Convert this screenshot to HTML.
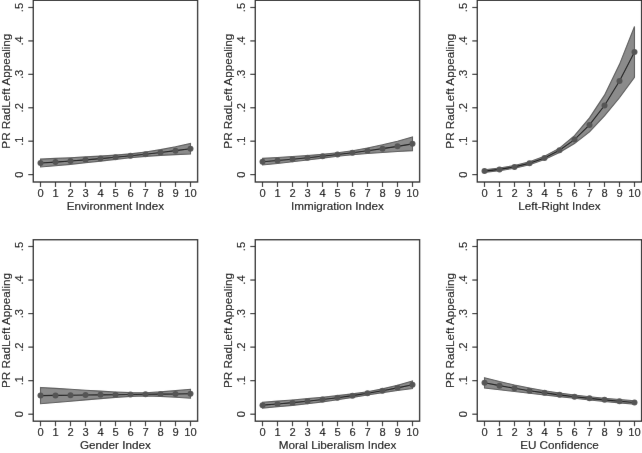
<!DOCTYPE html>
<html><head><meta charset="utf-8"><style>
html,body{margin:0;padding:0;background:#fff;}
body{width:642px;height:453px;overflow:hidden;}
svg{display:block;}
text{font-family:"Liberation Sans",sans-serif;}
</style></head><body>
<svg width="642" height="453" viewBox="0 0 642 453">
<defs><filter id="bl" x="0" y="0" width="642" height="453" filterUnits="userSpaceOnUse"><feConvolveMatrix order="3" kernelMatrix="0.00163 0.03713 0.00163 0.03713 0.84497 0.03713 0.00163 0.03713 0.00163" edgeMode="duplicate" preserveAlpha="true"/></filter></defs>
<rect width="642" height="453" fill="#fff"/>
<g filter="url(#bl)">
<rect width="642" height="453" fill="#fff"/>
<polygon points="40.50,159.13 55.50,158.41 70.50,157.68 85.50,156.91 100.50,156.08 115.50,155.11 130.50,153.84 145.50,152.04 160.50,149.65 175.50,146.75 190.50,143.42 190.50,153.98 175.50,154.59 160.50,155.36 145.50,156.36 130.50,157.72 115.50,159.37 100.50,161.11 85.50,162.79 70.50,164.34 55.50,165.74 40.50,167.01" fill="#8b8b8b" stroke="#595959" stroke-width="1.1" stroke-linejoin="miter"/>
<polyline points="40.50,163.07 55.50,162.08 70.50,161.01 85.50,159.85 100.50,158.59 115.50,157.24 130.50,155.78 145.50,154.20 160.50,152.50 175.50,150.67 190.50,148.70" fill="none" stroke="#1a1a1a" stroke-width="1.1"/>
<circle cx="40.50" cy="163.07" r="3.0" fill="#555555"/>
<circle cx="55.50" cy="162.08" r="3.0" fill="#555555"/>
<circle cx="70.50" cy="161.01" r="3.0" fill="#555555"/>
<circle cx="85.50" cy="159.85" r="3.0" fill="#555555"/>
<circle cx="100.50" cy="158.59" r="3.0" fill="#555555"/>
<circle cx="115.50" cy="157.24" r="3.0" fill="#555555"/>
<circle cx="130.50" cy="155.78" r="3.0" fill="#555555"/>
<circle cx="145.50" cy="154.20" r="3.0" fill="#555555"/>
<circle cx="160.50" cy="152.50" r="3.0" fill="#555555"/>
<circle cx="175.50" cy="150.67" r="3.0" fill="#555555"/>
<circle cx="190.50" cy="148.70" r="3.0" fill="#555555"/>
<rect x="33.30" y="0.30" width="164.30" height="181.70" fill="none" stroke="#2e2e2e" stroke-width="1.4"/>
<line x1="28.30" y1="174.60" x2="33.30" y2="174.60" stroke="#2e2e2e" stroke-width="1.2"/>
<text x="22.80" y="174.60" transform="rotate(-90 22.80 174.60)" text-anchor="middle" font-size="11.2" font-family="Liberation Sans, sans-serif" fill="#000" stroke="#000" stroke-width="0.12">0</text>
<line x1="28.30" y1="141.18" x2="33.30" y2="141.18" stroke="#2e2e2e" stroke-width="1.2"/>
<text x="22.80" y="141.18" transform="rotate(-90 22.80 141.18)" text-anchor="middle" font-size="11.2" font-family="Liberation Sans, sans-serif" fill="#000" stroke="#000" stroke-width="0.12">.1</text>
<line x1="28.30" y1="107.76" x2="33.30" y2="107.76" stroke="#2e2e2e" stroke-width="1.2"/>
<text x="22.80" y="107.76" transform="rotate(-90 22.80 107.76)" text-anchor="middle" font-size="11.2" font-family="Liberation Sans, sans-serif" fill="#000" stroke="#000" stroke-width="0.12">.2</text>
<line x1="28.30" y1="74.34" x2="33.30" y2="74.34" stroke="#2e2e2e" stroke-width="1.2"/>
<text x="22.80" y="74.34" transform="rotate(-90 22.80 74.34)" text-anchor="middle" font-size="11.2" font-family="Liberation Sans, sans-serif" fill="#000" stroke="#000" stroke-width="0.12">.3</text>
<line x1="28.30" y1="40.92" x2="33.30" y2="40.92" stroke="#2e2e2e" stroke-width="1.2"/>
<text x="22.80" y="40.92" transform="rotate(-90 22.80 40.92)" text-anchor="middle" font-size="11.2" font-family="Liberation Sans, sans-serif" fill="#000" stroke="#000" stroke-width="0.12">.4</text>
<line x1="28.30" y1="7.50" x2="33.30" y2="7.50" stroke="#2e2e2e" stroke-width="1.2"/>
<text x="22.80" y="7.50" transform="rotate(-90 22.80 7.50)" text-anchor="middle" font-size="11.2" font-family="Liberation Sans, sans-serif" fill="#000" stroke="#000" stroke-width="0.12">.5</text>
<line x1="40.50" y1="182.00" x2="40.50" y2="187.00" stroke="#2e2e2e" stroke-width="1.2"/>
<text x="40.50" y="197.10" text-anchor="middle" font-size="11.2" font-family="Liberation Sans, sans-serif" fill="#000" stroke="#000" stroke-width="0.12">0</text>
<line x1="55.50" y1="182.00" x2="55.50" y2="187.00" stroke="#2e2e2e" stroke-width="1.2"/>
<text x="55.50" y="197.10" text-anchor="middle" font-size="11.2" font-family="Liberation Sans, sans-serif" fill="#000" stroke="#000" stroke-width="0.12">1</text>
<line x1="70.50" y1="182.00" x2="70.50" y2="187.00" stroke="#2e2e2e" stroke-width="1.2"/>
<text x="70.50" y="197.10" text-anchor="middle" font-size="11.2" font-family="Liberation Sans, sans-serif" fill="#000" stroke="#000" stroke-width="0.12">2</text>
<line x1="85.50" y1="182.00" x2="85.50" y2="187.00" stroke="#2e2e2e" stroke-width="1.2"/>
<text x="85.50" y="197.10" text-anchor="middle" font-size="11.2" font-family="Liberation Sans, sans-serif" fill="#000" stroke="#000" stroke-width="0.12">3</text>
<line x1="100.50" y1="182.00" x2="100.50" y2="187.00" stroke="#2e2e2e" stroke-width="1.2"/>
<text x="100.50" y="197.10" text-anchor="middle" font-size="11.2" font-family="Liberation Sans, sans-serif" fill="#000" stroke="#000" stroke-width="0.12">4</text>
<line x1="115.50" y1="182.00" x2="115.50" y2="187.00" stroke="#2e2e2e" stroke-width="1.2"/>
<text x="115.50" y="197.10" text-anchor="middle" font-size="11.2" font-family="Liberation Sans, sans-serif" fill="#000" stroke="#000" stroke-width="0.12">5</text>
<line x1="130.50" y1="182.00" x2="130.50" y2="187.00" stroke="#2e2e2e" stroke-width="1.2"/>
<text x="130.50" y="197.10" text-anchor="middle" font-size="11.2" font-family="Liberation Sans, sans-serif" fill="#000" stroke="#000" stroke-width="0.12">6</text>
<line x1="145.50" y1="182.00" x2="145.50" y2="187.00" stroke="#2e2e2e" stroke-width="1.2"/>
<text x="145.50" y="197.10" text-anchor="middle" font-size="11.2" font-family="Liberation Sans, sans-serif" fill="#000" stroke="#000" stroke-width="0.12">7</text>
<line x1="160.50" y1="182.00" x2="160.50" y2="187.00" stroke="#2e2e2e" stroke-width="1.2"/>
<text x="160.50" y="197.10" text-anchor="middle" font-size="11.2" font-family="Liberation Sans, sans-serif" fill="#000" stroke="#000" stroke-width="0.12">8</text>
<line x1="175.50" y1="182.00" x2="175.50" y2="187.00" stroke="#2e2e2e" stroke-width="1.2"/>
<text x="175.50" y="197.10" text-anchor="middle" font-size="11.2" font-family="Liberation Sans, sans-serif" fill="#000" stroke="#000" stroke-width="0.12">9</text>
<line x1="190.50" y1="182.00" x2="190.50" y2="187.00" stroke="#2e2e2e" stroke-width="1.2"/>
<text x="190.50" y="197.10" text-anchor="middle" font-size="11.2" font-family="Liberation Sans, sans-serif" fill="#000" stroke="#000" stroke-width="0.12">10</text>
<text x="115.45" y="209.80" text-anchor="middle" font-size="11.7" font-family="Liberation Sans, sans-serif" fill="#000" stroke="#000" stroke-width="0.12">Environment Index</text>
<text x="9.90" y="91.15" transform="rotate(-90 9.90 91.15)" text-anchor="middle" font-size="11.7" font-family="Liberation Sans, sans-serif" fill="#000" stroke="#000" stroke-width="0.12">PR RadLeft Appealing</text>
<polygon points="262.50,158.42 277.50,157.52 292.50,156.57 307.50,155.53 322.50,154.34 337.50,152.81 352.50,150.72 367.50,148.03 382.50,144.82 397.50,141.16 412.50,137.07 412.50,150.64 397.50,151.52 382.50,152.47 367.50,153.53 352.50,154.77 337.50,156.32 322.50,158.14 307.50,160.02 292.50,161.82 277.50,163.48 262.50,164.98" fill="#8b8b8b" stroke="#595959" stroke-width="1.1" stroke-linejoin="miter"/>
<polyline points="262.50,161.70 277.50,160.50 292.50,159.20 307.50,157.78 322.50,156.24 337.50,154.56 352.50,152.75 367.50,150.78 382.50,148.65 397.50,146.34 412.50,143.85" fill="none" stroke="#1a1a1a" stroke-width="1.1"/>
<circle cx="262.50" cy="161.70" r="3.0" fill="#555555"/>
<circle cx="277.50" cy="160.50" r="3.0" fill="#555555"/>
<circle cx="292.50" cy="159.20" r="3.0" fill="#555555"/>
<circle cx="307.50" cy="157.78" r="3.0" fill="#555555"/>
<circle cx="322.50" cy="156.24" r="3.0" fill="#555555"/>
<circle cx="337.50" cy="154.56" r="3.0" fill="#555555"/>
<circle cx="352.50" cy="152.75" r="3.0" fill="#555555"/>
<circle cx="367.50" cy="150.78" r="3.0" fill="#555555"/>
<circle cx="382.50" cy="148.65" r="3.0" fill="#555555"/>
<circle cx="397.50" cy="146.34" r="3.0" fill="#555555"/>
<circle cx="412.50" cy="143.85" r="3.0" fill="#555555"/>
<rect x="255.30" y="0.30" width="164.30" height="181.70" fill="none" stroke="#2e2e2e" stroke-width="1.4"/>
<line x1="250.30" y1="174.60" x2="255.30" y2="174.60" stroke="#2e2e2e" stroke-width="1.2"/>
<text x="244.80" y="174.60" transform="rotate(-90 244.80 174.60)" text-anchor="middle" font-size="11.2" font-family="Liberation Sans, sans-serif" fill="#000" stroke="#000" stroke-width="0.12">0</text>
<line x1="250.30" y1="141.18" x2="255.30" y2="141.18" stroke="#2e2e2e" stroke-width="1.2"/>
<text x="244.80" y="141.18" transform="rotate(-90 244.80 141.18)" text-anchor="middle" font-size="11.2" font-family="Liberation Sans, sans-serif" fill="#000" stroke="#000" stroke-width="0.12">.1</text>
<line x1="250.30" y1="107.76" x2="255.30" y2="107.76" stroke="#2e2e2e" stroke-width="1.2"/>
<text x="244.80" y="107.76" transform="rotate(-90 244.80 107.76)" text-anchor="middle" font-size="11.2" font-family="Liberation Sans, sans-serif" fill="#000" stroke="#000" stroke-width="0.12">.2</text>
<line x1="250.30" y1="74.34" x2="255.30" y2="74.34" stroke="#2e2e2e" stroke-width="1.2"/>
<text x="244.80" y="74.34" transform="rotate(-90 244.80 74.34)" text-anchor="middle" font-size="11.2" font-family="Liberation Sans, sans-serif" fill="#000" stroke="#000" stroke-width="0.12">.3</text>
<line x1="250.30" y1="40.92" x2="255.30" y2="40.92" stroke="#2e2e2e" stroke-width="1.2"/>
<text x="244.80" y="40.92" transform="rotate(-90 244.80 40.92)" text-anchor="middle" font-size="11.2" font-family="Liberation Sans, sans-serif" fill="#000" stroke="#000" stroke-width="0.12">.4</text>
<line x1="250.30" y1="7.50" x2="255.30" y2="7.50" stroke="#2e2e2e" stroke-width="1.2"/>
<text x="244.80" y="7.50" transform="rotate(-90 244.80 7.50)" text-anchor="middle" font-size="11.2" font-family="Liberation Sans, sans-serif" fill="#000" stroke="#000" stroke-width="0.12">.5</text>
<line x1="262.50" y1="182.00" x2="262.50" y2="187.00" stroke="#2e2e2e" stroke-width="1.2"/>
<text x="262.50" y="197.10" text-anchor="middle" font-size="11.2" font-family="Liberation Sans, sans-serif" fill="#000" stroke="#000" stroke-width="0.12">0</text>
<line x1="277.50" y1="182.00" x2="277.50" y2="187.00" stroke="#2e2e2e" stroke-width="1.2"/>
<text x="277.50" y="197.10" text-anchor="middle" font-size="11.2" font-family="Liberation Sans, sans-serif" fill="#000" stroke="#000" stroke-width="0.12">1</text>
<line x1="292.50" y1="182.00" x2="292.50" y2="187.00" stroke="#2e2e2e" stroke-width="1.2"/>
<text x="292.50" y="197.10" text-anchor="middle" font-size="11.2" font-family="Liberation Sans, sans-serif" fill="#000" stroke="#000" stroke-width="0.12">2</text>
<line x1="307.50" y1="182.00" x2="307.50" y2="187.00" stroke="#2e2e2e" stroke-width="1.2"/>
<text x="307.50" y="197.10" text-anchor="middle" font-size="11.2" font-family="Liberation Sans, sans-serif" fill="#000" stroke="#000" stroke-width="0.12">3</text>
<line x1="322.50" y1="182.00" x2="322.50" y2="187.00" stroke="#2e2e2e" stroke-width="1.2"/>
<text x="322.50" y="197.10" text-anchor="middle" font-size="11.2" font-family="Liberation Sans, sans-serif" fill="#000" stroke="#000" stroke-width="0.12">4</text>
<line x1="337.50" y1="182.00" x2="337.50" y2="187.00" stroke="#2e2e2e" stroke-width="1.2"/>
<text x="337.50" y="197.10" text-anchor="middle" font-size="11.2" font-family="Liberation Sans, sans-serif" fill="#000" stroke="#000" stroke-width="0.12">5</text>
<line x1="352.50" y1="182.00" x2="352.50" y2="187.00" stroke="#2e2e2e" stroke-width="1.2"/>
<text x="352.50" y="197.10" text-anchor="middle" font-size="11.2" font-family="Liberation Sans, sans-serif" fill="#000" stroke="#000" stroke-width="0.12">6</text>
<line x1="367.50" y1="182.00" x2="367.50" y2="187.00" stroke="#2e2e2e" stroke-width="1.2"/>
<text x="367.50" y="197.10" text-anchor="middle" font-size="11.2" font-family="Liberation Sans, sans-serif" fill="#000" stroke="#000" stroke-width="0.12">7</text>
<line x1="382.50" y1="182.00" x2="382.50" y2="187.00" stroke="#2e2e2e" stroke-width="1.2"/>
<text x="382.50" y="197.10" text-anchor="middle" font-size="11.2" font-family="Liberation Sans, sans-serif" fill="#000" stroke="#000" stroke-width="0.12">8</text>
<line x1="397.50" y1="182.00" x2="397.50" y2="187.00" stroke="#2e2e2e" stroke-width="1.2"/>
<text x="397.50" y="197.10" text-anchor="middle" font-size="11.2" font-family="Liberation Sans, sans-serif" fill="#000" stroke="#000" stroke-width="0.12">9</text>
<line x1="412.50" y1="182.00" x2="412.50" y2="187.00" stroke="#2e2e2e" stroke-width="1.2"/>
<text x="412.50" y="197.10" text-anchor="middle" font-size="11.2" font-family="Liberation Sans, sans-serif" fill="#000" stroke="#000" stroke-width="0.12">10</text>
<text x="337.45" y="209.80" text-anchor="middle" font-size="11.7" font-family="Liberation Sans, sans-serif" fill="#000" stroke="#000" stroke-width="0.12">Immigration Index</text>
<text x="231.90" y="91.15" transform="rotate(-90 231.90 91.15)" text-anchor="middle" font-size="11.7" font-family="Liberation Sans, sans-serif" fill="#000" stroke="#000" stroke-width="0.12">PR RadLeft Appealing</text>
<polygon points="484.50,169.75 499.50,168.05 514.50,165.55 529.50,161.71 544.50,156.23 559.50,148.11 574.50,135.57 589.50,117.89 604.50,95.16 619.50,64.35 634.50,26.54 634.50,77.34 619.50,97.77 604.50,115.88 589.50,131.93 574.50,143.59 559.50,152.45 544.50,159.57 529.50,164.72 514.50,168.22 499.50,170.72 484.50,172.42" fill="#8b8b8b" stroke="#595959" stroke-width="1.1" stroke-linejoin="miter"/>
<polyline points="484.50,171.09 499.50,169.39 514.50,166.88 529.50,163.22 544.50,157.90 559.50,150.28 574.50,139.58 589.50,124.91 604.50,105.52 619.50,81.06 634.50,51.94" fill="none" stroke="#1a1a1a" stroke-width="1.1"/>
<circle cx="484.50" cy="171.09" r="3.0" fill="#555555"/>
<circle cx="499.50" cy="169.39" r="3.0" fill="#555555"/>
<circle cx="514.50" cy="166.88" r="3.0" fill="#555555"/>
<circle cx="529.50" cy="163.22" r="3.0" fill="#555555"/>
<circle cx="544.50" cy="157.90" r="3.0" fill="#555555"/>
<circle cx="559.50" cy="150.28" r="3.0" fill="#555555"/>
<circle cx="574.50" cy="139.58" r="3.0" fill="#555555"/>
<circle cx="589.50" cy="124.91" r="3.0" fill="#555555"/>
<circle cx="604.50" cy="105.52" r="3.0" fill="#555555"/>
<circle cx="619.50" cy="81.06" r="3.0" fill="#555555"/>
<circle cx="634.50" cy="51.94" r="3.0" fill="#555555"/>
<rect x="477.30" y="0.30" width="164.30" height="181.70" fill="none" stroke="#2e2e2e" stroke-width="1.4"/>
<line x1="472.30" y1="174.60" x2="477.30" y2="174.60" stroke="#2e2e2e" stroke-width="1.2"/>
<text x="466.80" y="174.60" transform="rotate(-90 466.80 174.60)" text-anchor="middle" font-size="11.2" font-family="Liberation Sans, sans-serif" fill="#000" stroke="#000" stroke-width="0.12">0</text>
<line x1="472.30" y1="141.18" x2="477.30" y2="141.18" stroke="#2e2e2e" stroke-width="1.2"/>
<text x="466.80" y="141.18" transform="rotate(-90 466.80 141.18)" text-anchor="middle" font-size="11.2" font-family="Liberation Sans, sans-serif" fill="#000" stroke="#000" stroke-width="0.12">.1</text>
<line x1="472.30" y1="107.76" x2="477.30" y2="107.76" stroke="#2e2e2e" stroke-width="1.2"/>
<text x="466.80" y="107.76" transform="rotate(-90 466.80 107.76)" text-anchor="middle" font-size="11.2" font-family="Liberation Sans, sans-serif" fill="#000" stroke="#000" stroke-width="0.12">.2</text>
<line x1="472.30" y1="74.34" x2="477.30" y2="74.34" stroke="#2e2e2e" stroke-width="1.2"/>
<text x="466.80" y="74.34" transform="rotate(-90 466.80 74.34)" text-anchor="middle" font-size="11.2" font-family="Liberation Sans, sans-serif" fill="#000" stroke="#000" stroke-width="0.12">.3</text>
<line x1="472.30" y1="40.92" x2="477.30" y2="40.92" stroke="#2e2e2e" stroke-width="1.2"/>
<text x="466.80" y="40.92" transform="rotate(-90 466.80 40.92)" text-anchor="middle" font-size="11.2" font-family="Liberation Sans, sans-serif" fill="#000" stroke="#000" stroke-width="0.12">.4</text>
<line x1="472.30" y1="7.50" x2="477.30" y2="7.50" stroke="#2e2e2e" stroke-width="1.2"/>
<text x="466.80" y="7.50" transform="rotate(-90 466.80 7.50)" text-anchor="middle" font-size="11.2" font-family="Liberation Sans, sans-serif" fill="#000" stroke="#000" stroke-width="0.12">.5</text>
<line x1="484.50" y1="182.00" x2="484.50" y2="187.00" stroke="#2e2e2e" stroke-width="1.2"/>
<text x="484.50" y="197.10" text-anchor="middle" font-size="11.2" font-family="Liberation Sans, sans-serif" fill="#000" stroke="#000" stroke-width="0.12">0</text>
<line x1="499.50" y1="182.00" x2="499.50" y2="187.00" stroke="#2e2e2e" stroke-width="1.2"/>
<text x="499.50" y="197.10" text-anchor="middle" font-size="11.2" font-family="Liberation Sans, sans-serif" fill="#000" stroke="#000" stroke-width="0.12">1</text>
<line x1="514.50" y1="182.00" x2="514.50" y2="187.00" stroke="#2e2e2e" stroke-width="1.2"/>
<text x="514.50" y="197.10" text-anchor="middle" font-size="11.2" font-family="Liberation Sans, sans-serif" fill="#000" stroke="#000" stroke-width="0.12">2</text>
<line x1="529.50" y1="182.00" x2="529.50" y2="187.00" stroke="#2e2e2e" stroke-width="1.2"/>
<text x="529.50" y="197.10" text-anchor="middle" font-size="11.2" font-family="Liberation Sans, sans-serif" fill="#000" stroke="#000" stroke-width="0.12">3</text>
<line x1="544.50" y1="182.00" x2="544.50" y2="187.00" stroke="#2e2e2e" stroke-width="1.2"/>
<text x="544.50" y="197.10" text-anchor="middle" font-size="11.2" font-family="Liberation Sans, sans-serif" fill="#000" stroke="#000" stroke-width="0.12">4</text>
<line x1="559.50" y1="182.00" x2="559.50" y2="187.00" stroke="#2e2e2e" stroke-width="1.2"/>
<text x="559.50" y="197.10" text-anchor="middle" font-size="11.2" font-family="Liberation Sans, sans-serif" fill="#000" stroke="#000" stroke-width="0.12">5</text>
<line x1="574.50" y1="182.00" x2="574.50" y2="187.00" stroke="#2e2e2e" stroke-width="1.2"/>
<text x="574.50" y="197.10" text-anchor="middle" font-size="11.2" font-family="Liberation Sans, sans-serif" fill="#000" stroke="#000" stroke-width="0.12">6</text>
<line x1="589.50" y1="182.00" x2="589.50" y2="187.00" stroke="#2e2e2e" stroke-width="1.2"/>
<text x="589.50" y="197.10" text-anchor="middle" font-size="11.2" font-family="Liberation Sans, sans-serif" fill="#000" stroke="#000" stroke-width="0.12">7</text>
<line x1="604.50" y1="182.00" x2="604.50" y2="187.00" stroke="#2e2e2e" stroke-width="1.2"/>
<text x="604.50" y="197.10" text-anchor="middle" font-size="11.2" font-family="Liberation Sans, sans-serif" fill="#000" stroke="#000" stroke-width="0.12">8</text>
<line x1="619.50" y1="182.00" x2="619.50" y2="187.00" stroke="#2e2e2e" stroke-width="1.2"/>
<text x="619.50" y="197.10" text-anchor="middle" font-size="11.2" font-family="Liberation Sans, sans-serif" fill="#000" stroke="#000" stroke-width="0.12">9</text>
<line x1="634.50" y1="182.00" x2="634.50" y2="187.00" stroke="#2e2e2e" stroke-width="1.2"/>
<text x="634.50" y="197.10" text-anchor="middle" font-size="11.2" font-family="Liberation Sans, sans-serif" fill="#000" stroke="#000" stroke-width="0.12">10</text>
<text x="559.45" y="209.80" text-anchor="middle" font-size="11.7" font-family="Liberation Sans, sans-serif" fill="#000" stroke="#000" stroke-width="0.12">Left-Right Index</text>
<text x="453.90" y="91.15" transform="rotate(-90 453.90 91.15)" text-anchor="middle" font-size="11.7" font-family="Liberation Sans, sans-serif" fill="#000" stroke="#000" stroke-width="0.12">PR RadLeft Appealing</text>
<polygon points="40.50,387.44 55.50,388.35 70.50,389.28 85.50,390.20 100.50,391.11 115.50,391.97 130.50,392.62 145.50,392.68 160.50,391.89 175.50,390.66 190.50,389.28 190.50,398.20 175.50,397.20 160.50,396.36 145.50,395.95 130.50,396.37 115.50,397.40 100.50,398.62 85.50,399.90 70.50,401.18 55.50,402.47 40.50,403.74" fill="#8b8b8b" stroke="#595959" stroke-width="1.1" stroke-linejoin="miter"/>
<polyline points="40.50,395.59 55.50,395.41 70.50,395.23 85.50,395.05 100.50,394.87 115.50,394.68 130.50,394.50 145.50,394.31 160.50,394.12 175.50,393.93 190.50,393.74" fill="none" stroke="#1a1a1a" stroke-width="1.1"/>
<circle cx="40.50" cy="395.59" r="3.0" fill="#555555"/>
<circle cx="55.50" cy="395.41" r="3.0" fill="#555555"/>
<circle cx="70.50" cy="395.23" r="3.0" fill="#555555"/>
<circle cx="85.50" cy="395.05" r="3.0" fill="#555555"/>
<circle cx="100.50" cy="394.87" r="3.0" fill="#555555"/>
<circle cx="115.50" cy="394.68" r="3.0" fill="#555555"/>
<circle cx="130.50" cy="394.50" r="3.0" fill="#555555"/>
<circle cx="145.50" cy="394.31" r="3.0" fill="#555555"/>
<circle cx="160.50" cy="394.12" r="3.0" fill="#555555"/>
<circle cx="175.50" cy="393.93" r="3.0" fill="#555555"/>
<circle cx="190.50" cy="393.74" r="3.0" fill="#555555"/>
<rect x="33.30" y="239.70" width="164.30" height="181.50" fill="none" stroke="#2e2e2e" stroke-width="1.4"/>
<line x1="28.30" y1="414.20" x2="33.30" y2="414.20" stroke="#2e2e2e" stroke-width="1.2"/>
<text x="22.80" y="414.20" transform="rotate(-90 22.80 414.20)" text-anchor="middle" font-size="11.2" font-family="Liberation Sans, sans-serif" fill="#000" stroke="#000" stroke-width="0.12">0</text>
<line x1="28.30" y1="380.66" x2="33.30" y2="380.66" stroke="#2e2e2e" stroke-width="1.2"/>
<text x="22.80" y="380.66" transform="rotate(-90 22.80 380.66)" text-anchor="middle" font-size="11.2" font-family="Liberation Sans, sans-serif" fill="#000" stroke="#000" stroke-width="0.12">.1</text>
<line x1="28.30" y1="347.12" x2="33.30" y2="347.12" stroke="#2e2e2e" stroke-width="1.2"/>
<text x="22.80" y="347.12" transform="rotate(-90 22.80 347.12)" text-anchor="middle" font-size="11.2" font-family="Liberation Sans, sans-serif" fill="#000" stroke="#000" stroke-width="0.12">.2</text>
<line x1="28.30" y1="313.58" x2="33.30" y2="313.58" stroke="#2e2e2e" stroke-width="1.2"/>
<text x="22.80" y="313.58" transform="rotate(-90 22.80 313.58)" text-anchor="middle" font-size="11.2" font-family="Liberation Sans, sans-serif" fill="#000" stroke="#000" stroke-width="0.12">.3</text>
<line x1="28.30" y1="280.04" x2="33.30" y2="280.04" stroke="#2e2e2e" stroke-width="1.2"/>
<text x="22.80" y="280.04" transform="rotate(-90 22.80 280.04)" text-anchor="middle" font-size="11.2" font-family="Liberation Sans, sans-serif" fill="#000" stroke="#000" stroke-width="0.12">.4</text>
<line x1="28.30" y1="246.50" x2="33.30" y2="246.50" stroke="#2e2e2e" stroke-width="1.2"/>
<text x="22.80" y="246.50" transform="rotate(-90 22.80 246.50)" text-anchor="middle" font-size="11.2" font-family="Liberation Sans, sans-serif" fill="#000" stroke="#000" stroke-width="0.12">.5</text>
<line x1="40.50" y1="421.20" x2="40.50" y2="426.20" stroke="#2e2e2e" stroke-width="1.2"/>
<text x="40.50" y="436.40" text-anchor="middle" font-size="11.2" font-family="Liberation Sans, sans-serif" fill="#000" stroke="#000" stroke-width="0.12">0</text>
<line x1="55.50" y1="421.20" x2="55.50" y2="426.20" stroke="#2e2e2e" stroke-width="1.2"/>
<text x="55.50" y="436.40" text-anchor="middle" font-size="11.2" font-family="Liberation Sans, sans-serif" fill="#000" stroke="#000" stroke-width="0.12">1</text>
<line x1="70.50" y1="421.20" x2="70.50" y2="426.20" stroke="#2e2e2e" stroke-width="1.2"/>
<text x="70.50" y="436.40" text-anchor="middle" font-size="11.2" font-family="Liberation Sans, sans-serif" fill="#000" stroke="#000" stroke-width="0.12">2</text>
<line x1="85.50" y1="421.20" x2="85.50" y2="426.20" stroke="#2e2e2e" stroke-width="1.2"/>
<text x="85.50" y="436.40" text-anchor="middle" font-size="11.2" font-family="Liberation Sans, sans-serif" fill="#000" stroke="#000" stroke-width="0.12">3</text>
<line x1="100.50" y1="421.20" x2="100.50" y2="426.20" stroke="#2e2e2e" stroke-width="1.2"/>
<text x="100.50" y="436.40" text-anchor="middle" font-size="11.2" font-family="Liberation Sans, sans-serif" fill="#000" stroke="#000" stroke-width="0.12">4</text>
<line x1="115.50" y1="421.20" x2="115.50" y2="426.20" stroke="#2e2e2e" stroke-width="1.2"/>
<text x="115.50" y="436.40" text-anchor="middle" font-size="11.2" font-family="Liberation Sans, sans-serif" fill="#000" stroke="#000" stroke-width="0.12">5</text>
<line x1="130.50" y1="421.20" x2="130.50" y2="426.20" stroke="#2e2e2e" stroke-width="1.2"/>
<text x="130.50" y="436.40" text-anchor="middle" font-size="11.2" font-family="Liberation Sans, sans-serif" fill="#000" stroke="#000" stroke-width="0.12">6</text>
<line x1="145.50" y1="421.20" x2="145.50" y2="426.20" stroke="#2e2e2e" stroke-width="1.2"/>
<text x="145.50" y="436.40" text-anchor="middle" font-size="11.2" font-family="Liberation Sans, sans-serif" fill="#000" stroke="#000" stroke-width="0.12">7</text>
<line x1="160.50" y1="421.20" x2="160.50" y2="426.20" stroke="#2e2e2e" stroke-width="1.2"/>
<text x="160.50" y="436.40" text-anchor="middle" font-size="11.2" font-family="Liberation Sans, sans-serif" fill="#000" stroke="#000" stroke-width="0.12">8</text>
<line x1="175.50" y1="421.20" x2="175.50" y2="426.20" stroke="#2e2e2e" stroke-width="1.2"/>
<text x="175.50" y="436.40" text-anchor="middle" font-size="11.2" font-family="Liberation Sans, sans-serif" fill="#000" stroke="#000" stroke-width="0.12">9</text>
<line x1="190.50" y1="421.20" x2="190.50" y2="426.20" stroke="#2e2e2e" stroke-width="1.2"/>
<text x="190.50" y="436.40" text-anchor="middle" font-size="11.2" font-family="Liberation Sans, sans-serif" fill="#000" stroke="#000" stroke-width="0.12">10</text>
<text x="115.45" y="449.10" text-anchor="middle" font-size="11.7" font-family="Liberation Sans, sans-serif" fill="#000" stroke="#000" stroke-width="0.12">Gender Index</text>
<text x="9.90" y="330.45" transform="rotate(-90 9.90 330.45)" text-anchor="middle" font-size="11.7" font-family="Liberation Sans, sans-serif" fill="#000" stroke="#000" stroke-width="0.12">PR RadLeft Appealing</text>
<polygon points="262.50,402.26 277.50,401.15 292.50,399.95 307.50,398.64 322.50,397.23 337.50,395.66 352.50,393.88 367.50,391.70 382.50,388.86 397.50,385.24 412.50,380.89 412.50,388.47 397.50,390.50 382.50,392.62 367.50,394.93 352.50,397.38 337.50,399.73 322.50,401.87 307.50,403.75 292.50,405.39 277.50,406.81 262.50,408.03" fill="#8b8b8b" stroke="#595959" stroke-width="1.1" stroke-linejoin="miter"/>
<polyline points="262.50,405.14 277.50,403.98 292.50,402.67 307.50,401.20 322.50,399.55 337.50,397.70 352.50,395.63 367.50,393.32 382.50,390.74 397.50,387.87 412.50,384.68" fill="none" stroke="#1a1a1a" stroke-width="1.1"/>
<circle cx="262.50" cy="405.14" r="3.0" fill="#555555"/>
<circle cx="277.50" cy="403.98" r="3.0" fill="#555555"/>
<circle cx="292.50" cy="402.67" r="3.0" fill="#555555"/>
<circle cx="307.50" cy="401.20" r="3.0" fill="#555555"/>
<circle cx="322.50" cy="399.55" r="3.0" fill="#555555"/>
<circle cx="337.50" cy="397.70" r="3.0" fill="#555555"/>
<circle cx="352.50" cy="395.63" r="3.0" fill="#555555"/>
<circle cx="367.50" cy="393.32" r="3.0" fill="#555555"/>
<circle cx="382.50" cy="390.74" r="3.0" fill="#555555"/>
<circle cx="397.50" cy="387.87" r="3.0" fill="#555555"/>
<circle cx="412.50" cy="384.68" r="3.0" fill="#555555"/>
<rect x="255.30" y="239.70" width="164.30" height="181.50" fill="none" stroke="#2e2e2e" stroke-width="1.4"/>
<line x1="250.30" y1="414.20" x2="255.30" y2="414.20" stroke="#2e2e2e" stroke-width="1.2"/>
<text x="244.80" y="414.20" transform="rotate(-90 244.80 414.20)" text-anchor="middle" font-size="11.2" font-family="Liberation Sans, sans-serif" fill="#000" stroke="#000" stroke-width="0.12">0</text>
<line x1="250.30" y1="380.66" x2="255.30" y2="380.66" stroke="#2e2e2e" stroke-width="1.2"/>
<text x="244.80" y="380.66" transform="rotate(-90 244.80 380.66)" text-anchor="middle" font-size="11.2" font-family="Liberation Sans, sans-serif" fill="#000" stroke="#000" stroke-width="0.12">.1</text>
<line x1="250.30" y1="347.12" x2="255.30" y2="347.12" stroke="#2e2e2e" stroke-width="1.2"/>
<text x="244.80" y="347.12" transform="rotate(-90 244.80 347.12)" text-anchor="middle" font-size="11.2" font-family="Liberation Sans, sans-serif" fill="#000" stroke="#000" stroke-width="0.12">.2</text>
<line x1="250.30" y1="313.58" x2="255.30" y2="313.58" stroke="#2e2e2e" stroke-width="1.2"/>
<text x="244.80" y="313.58" transform="rotate(-90 244.80 313.58)" text-anchor="middle" font-size="11.2" font-family="Liberation Sans, sans-serif" fill="#000" stroke="#000" stroke-width="0.12">.3</text>
<line x1="250.30" y1="280.04" x2="255.30" y2="280.04" stroke="#2e2e2e" stroke-width="1.2"/>
<text x="244.80" y="280.04" transform="rotate(-90 244.80 280.04)" text-anchor="middle" font-size="11.2" font-family="Liberation Sans, sans-serif" fill="#000" stroke="#000" stroke-width="0.12">.4</text>
<line x1="250.30" y1="246.50" x2="255.30" y2="246.50" stroke="#2e2e2e" stroke-width="1.2"/>
<text x="244.80" y="246.50" transform="rotate(-90 244.80 246.50)" text-anchor="middle" font-size="11.2" font-family="Liberation Sans, sans-serif" fill="#000" stroke="#000" stroke-width="0.12">.5</text>
<line x1="262.50" y1="421.20" x2="262.50" y2="426.20" stroke="#2e2e2e" stroke-width="1.2"/>
<text x="262.50" y="436.40" text-anchor="middle" font-size="11.2" font-family="Liberation Sans, sans-serif" fill="#000" stroke="#000" stroke-width="0.12">0</text>
<line x1="277.50" y1="421.20" x2="277.50" y2="426.20" stroke="#2e2e2e" stroke-width="1.2"/>
<text x="277.50" y="436.40" text-anchor="middle" font-size="11.2" font-family="Liberation Sans, sans-serif" fill="#000" stroke="#000" stroke-width="0.12">1</text>
<line x1="292.50" y1="421.20" x2="292.50" y2="426.20" stroke="#2e2e2e" stroke-width="1.2"/>
<text x="292.50" y="436.40" text-anchor="middle" font-size="11.2" font-family="Liberation Sans, sans-serif" fill="#000" stroke="#000" stroke-width="0.12">2</text>
<line x1="307.50" y1="421.20" x2="307.50" y2="426.20" stroke="#2e2e2e" stroke-width="1.2"/>
<text x="307.50" y="436.40" text-anchor="middle" font-size="11.2" font-family="Liberation Sans, sans-serif" fill="#000" stroke="#000" stroke-width="0.12">3</text>
<line x1="322.50" y1="421.20" x2="322.50" y2="426.20" stroke="#2e2e2e" stroke-width="1.2"/>
<text x="322.50" y="436.40" text-anchor="middle" font-size="11.2" font-family="Liberation Sans, sans-serif" fill="#000" stroke="#000" stroke-width="0.12">4</text>
<line x1="337.50" y1="421.20" x2="337.50" y2="426.20" stroke="#2e2e2e" stroke-width="1.2"/>
<text x="337.50" y="436.40" text-anchor="middle" font-size="11.2" font-family="Liberation Sans, sans-serif" fill="#000" stroke="#000" stroke-width="0.12">5</text>
<line x1="352.50" y1="421.20" x2="352.50" y2="426.20" stroke="#2e2e2e" stroke-width="1.2"/>
<text x="352.50" y="436.40" text-anchor="middle" font-size="11.2" font-family="Liberation Sans, sans-serif" fill="#000" stroke="#000" stroke-width="0.12">6</text>
<line x1="367.50" y1="421.20" x2="367.50" y2="426.20" stroke="#2e2e2e" stroke-width="1.2"/>
<text x="367.50" y="436.40" text-anchor="middle" font-size="11.2" font-family="Liberation Sans, sans-serif" fill="#000" stroke="#000" stroke-width="0.12">7</text>
<line x1="382.50" y1="421.20" x2="382.50" y2="426.20" stroke="#2e2e2e" stroke-width="1.2"/>
<text x="382.50" y="436.40" text-anchor="middle" font-size="11.2" font-family="Liberation Sans, sans-serif" fill="#000" stroke="#000" stroke-width="0.12">8</text>
<line x1="397.50" y1="421.20" x2="397.50" y2="426.20" stroke="#2e2e2e" stroke-width="1.2"/>
<text x="397.50" y="436.40" text-anchor="middle" font-size="11.2" font-family="Liberation Sans, sans-serif" fill="#000" stroke="#000" stroke-width="0.12">9</text>
<line x1="412.50" y1="421.20" x2="412.50" y2="426.20" stroke="#2e2e2e" stroke-width="1.2"/>
<text x="412.50" y="436.40" text-anchor="middle" font-size="11.2" font-family="Liberation Sans, sans-serif" fill="#000" stroke="#000" stroke-width="0.12">10</text>
<text x="337.45" y="449.10" text-anchor="middle" font-size="11.7" font-family="Liberation Sans, sans-serif" fill="#000" stroke="#000" stroke-width="0.12">Moral Liberalism Index</text>
<text x="231.90" y="330.45" transform="rotate(-90 231.90 330.45)" text-anchor="middle" font-size="11.7" font-family="Liberation Sans, sans-serif" fill="#000" stroke="#000" stroke-width="0.12">PR RadLeft Appealing</text>
<polygon points="484.50,377.67 499.50,381.54 514.50,385.00 529.50,388.06 544.50,390.75 559.50,393.07 574.50,395.05 589.50,396.75 604.50,398.22 619.50,399.51 634.50,400.68 634.50,404.24 619.50,402.92 604.50,401.47 589.50,399.93 574.50,398.30 559.50,396.64 544.50,394.97 529.50,393.28 514.50,391.56 499.50,389.78 484.50,387.94" fill="#8b8b8b" stroke="#595959" stroke-width="1.1" stroke-linejoin="miter"/>
<polyline points="484.50,382.81 499.50,385.66 514.50,388.28 529.50,390.67 544.50,392.86 559.50,394.86 574.50,396.68 589.50,398.34 604.50,399.85 619.50,401.22 634.50,402.46" fill="none" stroke="#1a1a1a" stroke-width="1.1"/>
<circle cx="484.50" cy="382.81" r="3.0" fill="#555555"/>
<circle cx="499.50" cy="385.66" r="3.0" fill="#555555"/>
<circle cx="514.50" cy="388.28" r="3.0" fill="#555555"/>
<circle cx="529.50" cy="390.67" r="3.0" fill="#555555"/>
<circle cx="544.50" cy="392.86" r="3.0" fill="#555555"/>
<circle cx="559.50" cy="394.86" r="3.0" fill="#555555"/>
<circle cx="574.50" cy="396.68" r="3.0" fill="#555555"/>
<circle cx="589.50" cy="398.34" r="3.0" fill="#555555"/>
<circle cx="604.50" cy="399.85" r="3.0" fill="#555555"/>
<circle cx="619.50" cy="401.22" r="3.0" fill="#555555"/>
<circle cx="634.50" cy="402.46" r="3.0" fill="#555555"/>
<rect x="477.30" y="239.70" width="164.30" height="181.50" fill="none" stroke="#2e2e2e" stroke-width="1.4"/>
<line x1="472.30" y1="414.20" x2="477.30" y2="414.20" stroke="#2e2e2e" stroke-width="1.2"/>
<text x="466.80" y="414.20" transform="rotate(-90 466.80 414.20)" text-anchor="middle" font-size="11.2" font-family="Liberation Sans, sans-serif" fill="#000" stroke="#000" stroke-width="0.12">0</text>
<line x1="472.30" y1="380.66" x2="477.30" y2="380.66" stroke="#2e2e2e" stroke-width="1.2"/>
<text x="466.80" y="380.66" transform="rotate(-90 466.80 380.66)" text-anchor="middle" font-size="11.2" font-family="Liberation Sans, sans-serif" fill="#000" stroke="#000" stroke-width="0.12">.1</text>
<line x1="472.30" y1="347.12" x2="477.30" y2="347.12" stroke="#2e2e2e" stroke-width="1.2"/>
<text x="466.80" y="347.12" transform="rotate(-90 466.80 347.12)" text-anchor="middle" font-size="11.2" font-family="Liberation Sans, sans-serif" fill="#000" stroke="#000" stroke-width="0.12">.2</text>
<line x1="472.30" y1="313.58" x2="477.30" y2="313.58" stroke="#2e2e2e" stroke-width="1.2"/>
<text x="466.80" y="313.58" transform="rotate(-90 466.80 313.58)" text-anchor="middle" font-size="11.2" font-family="Liberation Sans, sans-serif" fill="#000" stroke="#000" stroke-width="0.12">.3</text>
<line x1="472.30" y1="280.04" x2="477.30" y2="280.04" stroke="#2e2e2e" stroke-width="1.2"/>
<text x="466.80" y="280.04" transform="rotate(-90 466.80 280.04)" text-anchor="middle" font-size="11.2" font-family="Liberation Sans, sans-serif" fill="#000" stroke="#000" stroke-width="0.12">.4</text>
<line x1="472.30" y1="246.50" x2="477.30" y2="246.50" stroke="#2e2e2e" stroke-width="1.2"/>
<text x="466.80" y="246.50" transform="rotate(-90 466.80 246.50)" text-anchor="middle" font-size="11.2" font-family="Liberation Sans, sans-serif" fill="#000" stroke="#000" stroke-width="0.12">.5</text>
<line x1="484.50" y1="421.20" x2="484.50" y2="426.20" stroke="#2e2e2e" stroke-width="1.2"/>
<text x="484.50" y="436.40" text-anchor="middle" font-size="11.2" font-family="Liberation Sans, sans-serif" fill="#000" stroke="#000" stroke-width="0.12">0</text>
<line x1="499.50" y1="421.20" x2="499.50" y2="426.20" stroke="#2e2e2e" stroke-width="1.2"/>
<text x="499.50" y="436.40" text-anchor="middle" font-size="11.2" font-family="Liberation Sans, sans-serif" fill="#000" stroke="#000" stroke-width="0.12">1</text>
<line x1="514.50" y1="421.20" x2="514.50" y2="426.20" stroke="#2e2e2e" stroke-width="1.2"/>
<text x="514.50" y="436.40" text-anchor="middle" font-size="11.2" font-family="Liberation Sans, sans-serif" fill="#000" stroke="#000" stroke-width="0.12">2</text>
<line x1="529.50" y1="421.20" x2="529.50" y2="426.20" stroke="#2e2e2e" stroke-width="1.2"/>
<text x="529.50" y="436.40" text-anchor="middle" font-size="11.2" font-family="Liberation Sans, sans-serif" fill="#000" stroke="#000" stroke-width="0.12">3</text>
<line x1="544.50" y1="421.20" x2="544.50" y2="426.20" stroke="#2e2e2e" stroke-width="1.2"/>
<text x="544.50" y="436.40" text-anchor="middle" font-size="11.2" font-family="Liberation Sans, sans-serif" fill="#000" stroke="#000" stroke-width="0.12">4</text>
<line x1="559.50" y1="421.20" x2="559.50" y2="426.20" stroke="#2e2e2e" stroke-width="1.2"/>
<text x="559.50" y="436.40" text-anchor="middle" font-size="11.2" font-family="Liberation Sans, sans-serif" fill="#000" stroke="#000" stroke-width="0.12">5</text>
<line x1="574.50" y1="421.20" x2="574.50" y2="426.20" stroke="#2e2e2e" stroke-width="1.2"/>
<text x="574.50" y="436.40" text-anchor="middle" font-size="11.2" font-family="Liberation Sans, sans-serif" fill="#000" stroke="#000" stroke-width="0.12">6</text>
<line x1="589.50" y1="421.20" x2="589.50" y2="426.20" stroke="#2e2e2e" stroke-width="1.2"/>
<text x="589.50" y="436.40" text-anchor="middle" font-size="11.2" font-family="Liberation Sans, sans-serif" fill="#000" stroke="#000" stroke-width="0.12">7</text>
<line x1="604.50" y1="421.20" x2="604.50" y2="426.20" stroke="#2e2e2e" stroke-width="1.2"/>
<text x="604.50" y="436.40" text-anchor="middle" font-size="11.2" font-family="Liberation Sans, sans-serif" fill="#000" stroke="#000" stroke-width="0.12">8</text>
<line x1="619.50" y1="421.20" x2="619.50" y2="426.20" stroke="#2e2e2e" stroke-width="1.2"/>
<text x="619.50" y="436.40" text-anchor="middle" font-size="11.2" font-family="Liberation Sans, sans-serif" fill="#000" stroke="#000" stroke-width="0.12">9</text>
<line x1="634.50" y1="421.20" x2="634.50" y2="426.20" stroke="#2e2e2e" stroke-width="1.2"/>
<text x="634.50" y="436.40" text-anchor="middle" font-size="11.2" font-family="Liberation Sans, sans-serif" fill="#000" stroke="#000" stroke-width="0.12">10</text>
<text x="559.45" y="449.10" text-anchor="middle" font-size="11.7" font-family="Liberation Sans, sans-serif" fill="#000" stroke="#000" stroke-width="0.12">EU Confidence</text>
<text x="453.90" y="330.45" transform="rotate(-90 453.90 330.45)" text-anchor="middle" font-size="11.7" font-family="Liberation Sans, sans-serif" fill="#000" stroke="#000" stroke-width="0.12">PR RadLeft Appealing</text>
</g>
</svg>
</body></html>
